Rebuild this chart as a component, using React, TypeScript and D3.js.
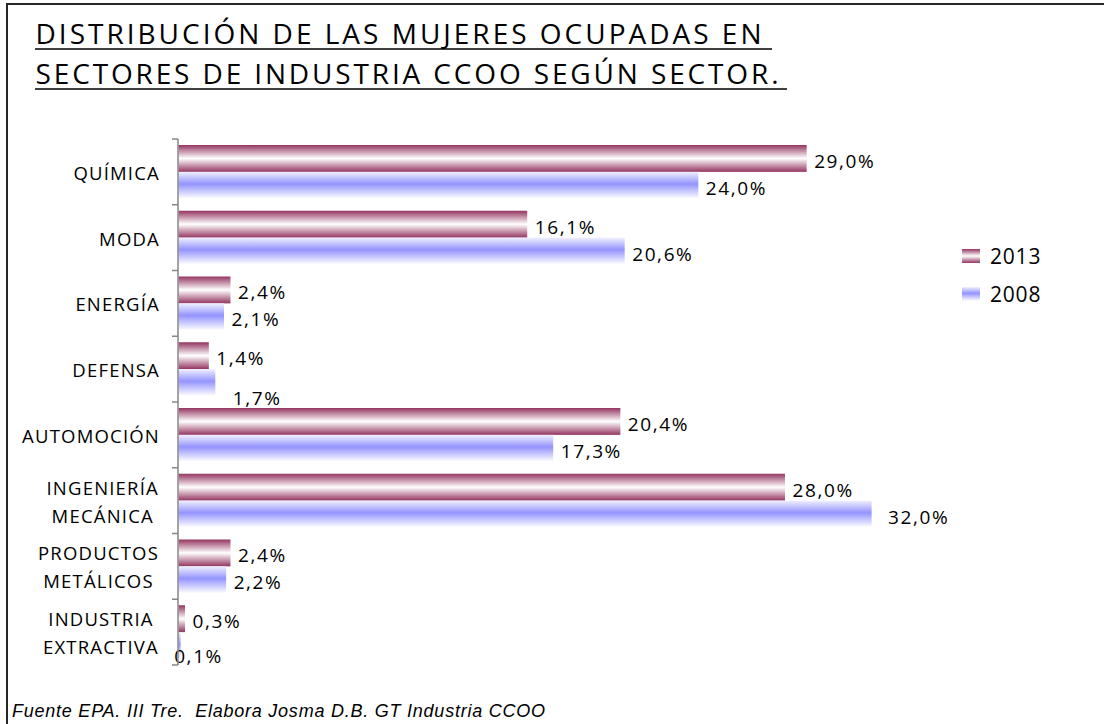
import React, { useEffect, useRef } from "react";
import * as d3 from "d3";

const categories = [
  "QUÍMICA",
  "MODA",
  "ENERGÍA",
  "DEFENSA",
  "AUTOMOCIÓN",
  "INGENIERÍA\nMECÁNICA",
  "PRODUCTOS\nMETÁLICOS",
  "INDUSTRIA\nEXTRACTIVA",
];
const series = ["2013", "2008"];
const values2013 = [29.0, 16.1, 2.4, 1.4, 20.4, 28.0, 2.4, 0.3];
const values2008 = [24.0, 20.6, 2.1, 1.7, 17.3, 32.0, 2.2, 0.1];
const titleLines = [
  "DISTRIBUCIÓN DE LAS MUJERES OCUPADAS EN",
  "SECTORES DE INDUSTRIA CCOO SEGÚN SECTOR.",
];
const footer = "Fuente EPA. III Tre.  Elabora Josma D.B. GT Industria CCOO";

const W = 1104;
const H = 724;
const FONT = "'Open Sans', 'DejaVu Sans', sans-serif";

export default function App() {
  const ref = useRef<SVGSVGElement | null>(null);

  useEffect(() => {
    const svg = d3.select(ref.current);
    svg.selectAll("*").remove();

    const defs = svg.append("defs");
    const g13 = defs
      .append("linearGradient")
      .attr("id", "g2013")
      .attr("x1", 0)
      .attr("y1", 0)
      .attr("x2", 0)
      .attr("y2", 1);
    g13.append("stop").attr("offset", "0%").attr("stop-color", "#943560");
    g13.append("stop").attr("offset", "50%").attr("stop-color", "#ffffff");
    g13.append("stop").attr("offset", "100%").attr("stop-color", "#943560");
    const g08 = defs
      .append("linearGradient")
      .attr("id", "g2008")
      .attr("x1", 0)
      .attr("y1", 0)
      .attr("x2", 0)
      .attr("y2", 1);
    g08.append("stop").attr("offset", "0%").attr("stop-color", "#f0f0ff");
    g08.append("stop").attr("offset", "45%").attr("stop-color", "#9494ff");
    g08.append("stop").attr("offset", "100%").attr("stop-color", "#ffffff");
    const fills: Record<string, string> = { "2013": "url(#g2013)", "2008": "url(#g2008)" };

    // background + border (top and left visible)
    svg.append("rect").attr("width", W).attr("height", H).attr("fill", "#fff");
    svg
      .append("path")
      .attr("d", `M7,${H + 2} L7,4 L${W + 2},4`)
      .attr("fill", "none")
      .attr("stroke", "#262626")
      .attr("stroke-width", 2);

    // title
    const titleEnds = [772, 787];
    const titleTextLen = [726, 743];
    titleLines.forEach((t, i) => {
      const yb = 44 + i * 40;
      svg
        .append("text")
        .attr("x", 35.5)
        .attr("y", yb)
        .attr("font-family", FONT)
        .attr("font-size", 28)
        .attr("fill", "#000")
        .attr("textLength", titleTextLen[i])
        .attr("lengthAdjust", "spacing")
        .text(t);
      svg
        .append("line")
        .attr("x1", 35)
        .attr("x2", titleEnds[i])
        .attr("y1", yb + 5)
        .attr("y2", yb + 5)
        .attr("stroke", "#000")
        .attr("stroke-width", 1.6);
    });

    // scales
    const x = d3.scaleLinear().domain([0, 35]).range([178.5, 936.6]);
    const y = d3.scaleBand<string>().domain(categories).range([139, 665]).padding(0);
    const ySub = d3
      .scaleBand<string>()
      .domain(series)
      .range([6, y.bandwidth() - 6])
      .padding(0);

    const data = categories.map((c, i) => ({
      cat: c,
      vals: [
        { s: "2013", v: values2013[i] },
        { s: "2008", v: values2008[i] },
      ],
    }));

    // bars
    const groups = svg
      .append("g")
      .selectAll("g")
      .data(data)
      .join("g")
      .attr("transform", (d) => `translate(0,${y(d.cat)})`);
    groups
      .selectAll("rect")
      .data((d) => d.vals)
      .join("rect")
      .attr("x", x(0))
      .attr("y", (d) => ySub(d.s)!)
      .attr("width", (d) => x(d.v) - x(0))
      .attr("height", ySub.bandwidth())
      .attr("fill", (d) => fills[d.s]);

    // value labels (some manually nudged as in the original)
    const nudge: Record<string, [number, number]> = {
      "DEFENSA|2008": [10, 13],
      "INDUSTRIA\nEXTRACTIVA|2008": [-14, 8],
      "INGENIERÍA\nMECÁNICA|2008": [9, 0],
    };
    groups.each(function (d) {
      const gg = d3.select(this);
      d.vals.forEach((vv) => {
        const n = nudge[`${d.cat}|${vv.s}`] || [0, 0];
        gg.append("text")
          .attr("x", x(vv.v) + 7.5 + n[0])
          .attr("y", ySub(vv.s)! + ySub.bandwidth() / 2 + 9.5 + n[1])
          .attr("font-family", FONT)
          .attr("font-size", 19)
          .attr("letter-spacing", 1.6)
          .attr("fill", "#000")
          .text(vv.v.toFixed(1).replace(".", ",") + "%");
      });
    });

    // axis
    const axisG = svg.append("g").attr("transform", `translate(${x(0) - 0.5},0)`);
    axisG
      .append("line")
      .attr("x1", 0)
      .attr("x2", 0)
      .attr("y1", 139)
      .attr("y2", 665)
      .attr("stroke", "#868686")
      .attr("stroke-width", 1.5);
    const tickYs = categories.map((c) => y(c)!).concat([y.range()[1]]);
    axisG
      .selectAll("line.tick")
      .data(tickYs)
      .join("line")
      .attr("class", "tick")
      .attr("x1", -6)
      .attr("x2", 0)
      .attr("y1", (d) => d)
      .attr("y2", (d) => d)
      .attr("stroke", "#868686")
      .attr("stroke-width", 1.5);

    // category labels
    categories.forEach((c) => {
      const lines = c.split("\n");
      const cy = y(c)! + y.bandwidth() / 2;
      if (lines.length === 1) {
        svg
          .append("text")
          .attr("x", 160)
          .attr("y", cy + 8)
          .attr("text-anchor", "end")
          .attr("font-family", FONT)
          .attr("font-size", 18.5)
          .attr("letter-spacing", 1.2)
          .attr("fill", "#000")
          .text(c);
      } else {
        const texts = lines.map((l, i) =>
          svg
            .append("text")
            .attr("y", cy + 8 + (i === 0 ? -14 : 14))
            .attr("text-anchor", "middle")
            .attr("font-family", FONT)
            .attr("font-size", 18.5)
            .attr("letter-spacing", 1.2)
            .attr("fill", "#000")
            .text(l)
        );
        const widths = texts.map((t) => (t.node() as SVGTextElement).getComputedTextLength());
        const maxW = Math.max(...widths);
        texts.forEach((t) => t.attr("x", 159 - maxW / 2));
      }
    });

    // legend
    const legY = [249, 287];
    series.forEach((s, i) => {
      svg
        .append("rect")
        .attr("x", 962)
        .attr("y", legY[i])
        .attr("width", 18)
        .attr("height", 14)
        .attr("fill", fills[s]);
      svg
        .append("text")
        .attr("x", 990)
        .attr("y", legY[i] + 15)
        .attr("font-family", FONT)
        .attr("font-size", 21)
        .attr("letter-spacing", 0.8)
        .attr("fill", "#000")
        .text(s);
    });

    // footer
    svg
      .append("text")
      .attr("x", 12)
      .attr("y", 717)
      .attr("font-family", "'Liberation Sans', Arial, sans-serif")
      .attr("font-style", "italic")
      .attr("font-size", 18)
      .attr("fill", "#000")
      .attr("textLength", 533)
      .attr("lengthAdjust", "spacing")
      .style("white-space", "pre")
      .text(footer);
  }, []);

  return (
    <div style={{ position: "absolute", left: 0, top: 0 }}>
      <svg ref={ref} width={W} height={H} style={{ display: "block" }} />
    </div>
  );
}
